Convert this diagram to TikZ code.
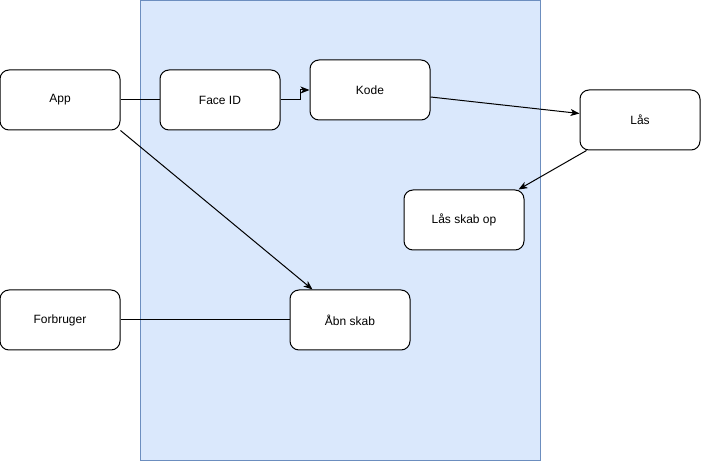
\documentclass[tikz,border=0pt]{standalone}
\usepackage{fontspec}
\setmainfont{Liberation Sans}
\usetikzlibrary{arrows.meta}
\definecolor{boxfill}{HTML}{DAE8FC}
\definecolor{boxline}{HTML}{6C8EBF}
\tikzset{
  blk/.style={draw=black, line width=1pt, fill=white, rounded corners=9pt,
    minimum width=120pt, minimum height=60pt, inner sep=0pt, font=\fontsize{12}{14}\selectfont},
  conn/.style={draw=black, line width=1pt},
  arr/.style={conn, -{Stealth[length=9pt,width=7pt,inset=2.5pt]}}
}
\begin{document}
\begin{tikzpicture}[x=1pt,y=-1pt]
\useasboundingbox (0,0) rectangle (702,462);
\node[draw=boxline, fill=boxfill, line width=1pt, minimum width=400pt, minimum height=460pt, inner sep=0pt] (area) at (340.5,230.5) {};
\node[blk] (app) at (60,100) {App};
\node[blk] (face) at (220,100) {Face ID};
\node[blk] (kode) at (370,90) {Kode};
\node[blk] (las) at (640,120) {Lås};
\node[blk] (skab) at (464,220) {Lås skab op};
\node[blk] (forb) at (60,320) {Forbruger};
\node[blk] (abn) at (350,320) {Åbn skab};
\coordinate (jog) at (300,100);
\draw[conn] (app.east) -- (face.west);
\draw[arr] (face.east) -- (jog) |- (kode.west);
\draw[arr] ([yshift=-7pt]kode.east) -- ([yshift=6.5pt]las.west);
\draw[arr] ([xshift=7pt]las.south west) -- ([xshift=-6pt]skab.north east);
\draw[arr] (app.south east) -- ([xshift=23pt]abn.north west);
\draw[conn] (forb.east) -- (abn.west);
\end{tikzpicture}
\end{document}
